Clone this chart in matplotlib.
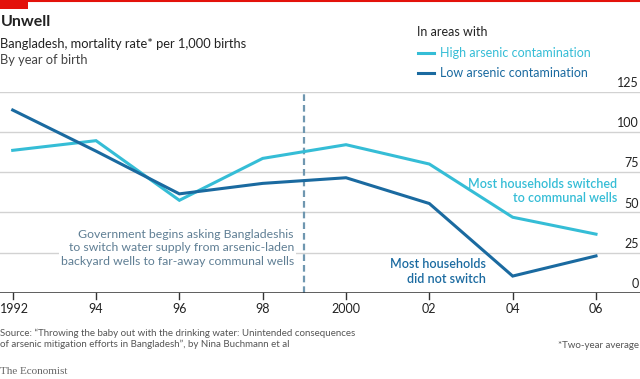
import matplotlib.pyplot as plt
from matplotlib.patches import Rectangle
from matplotlib.lines import Line2D

# === DATA ===
years = [1992, 1994, 1996, 1998, 2000, 2002, 2004, 2006]
high_arsenic = [88.5, 94.5, 57.5, 83.5, 92, 80, 47, 36.5]
low_arsenic = [113.5, 88, 61.5, 68, 71.5, 55.5, 10.5, 23]
year_labels = ["1992", "94", "96", "98", "2000", "02", "04", "06"]
y_ticks = [0, 25, 50, 75, 100, 125]

# === STYLE ===
LIGHT = "#35bdd6"
DARK = "#1a6aa0"
ANNOT = "#5f7e94"
GRID = "#d2d2d2"
TXT = "#222222"
FONT = "Lato"

plt.rcParams['font.family'] = [FONT, 'DejaVu Sans']

W, H = 640, 379
fig = plt.figure(figsize=(W / 100, H / 100), dpi=100)

# axes: pixel 0..640 horizontally, baseline at y=293, 125 at y=91.5
ax_bottom = (H - 293) / H
ax_top = (H - 91.5) / H
ax = fig.add_axes([0, ax_bottom, 1, ax_top - ax_bottom])
px_per_year = (596 - 12.7) / 14
x0 = 1992 - 12.7 / px_per_year
x1 = 1992 + (640 - 12.7) / px_per_year
ax.set_xlim(x0, x1)
ax.set_ylim(0, 125)
ax.axis('off')

# gridlines + right labels
for v in y_ticks[1:]:
    ax.axhline(v, color=GRID, lw=1, zorder=0)
for v in y_ticks:
    ax.annotate(str(v), xy=(1, v), xycoords=('axes fraction', 'data'),
                xytext=(-1, 2), textcoords='offset points',
                ha='right', va='bottom', fontsize=9, color=TXT)

# baseline and ticks
ax.axhline(0, color="#333333", lw=1.1, zorder=3)
for i, (yr, lab) in enumerate(zip(years, year_labels)):
    ax.plot([yr, yr], [0, -3.5], color="#333333", lw=1, clip_on=False)
    if i == 0:
        ax.text(x0 + 0.3 / px_per_year, -6.5, lab, ha='left', va='top',
                fontsize=9, color=TXT)
    else:
        ax.text(yr, -6.5, lab, ha='center', va='top', fontsize=9, color=TXT)

# policy marker
ax.plot([1999, 1999], [0, 124], color="#6f97b0", lw=1.6,
        linestyle=(0, (3, 1.8)), zorder=2)

# series
ax.plot(years, high_arsenic, color=LIGHT, lw=2.2, zorder=4, solid_joinstyle='miter')
ax.plot(years, low_arsenic, color=DARK, lw=2.2, zorder=5, solid_joinstyle='miter')

# annotations
ax.text(x0 + 294 / px_per_year, 40,
        "Government begins asking Bangladeshis\n"
        "to switch water supply from arsenic-laden\n"
        "backyard wells to far-away communal wells",
        ha='right', va='top', fontsize=8.8, color=ANNOT,
        linespacing=1.3, zorder=3,
        bbox=dict(facecolor='white', edgecolor='none', pad=1.5))
ax.text(x0 + 617 / px_per_year, 71.5, "Most households switched\nto communal wells",
        ha='right', va='top', fontsize=9, color=LIGHT, fontweight='semibold',
        linespacing=1.25)
ax.text(x0 + 486 / px_per_year, 21.5, "Most households\ndid not switch",
        ha='right', va='top', fontsize=9, color=DARK, fontweight='semibold',
        linespacing=1.25)

# header
fig.add_artist(Line2D([0, 1], [1 - 0.8 / H, 1 - 0.8 / H], color="#e3120b", lw=1.5))
fig.add_artist(Rectangle((0, 1 - 8.5 / H), 28 / W, 8.5 / H, color="#e3120b", lw=0))
fig.text(0.5 / W, 1 - 22 / H, "Unwell", fontsize=11.5, fontweight='bold',
         color=TXT, va='center', ha='left')
fig.text(0.5 / W, 1 - 43.5 / H, "Bangladesh, mortality rate* per 1,000 births",
         fontsize=9.3, color=TXT, va='center', ha='left')
fig.text(0.5 / W, 1 - 60 / H, "By year of birth",
         fontsize=9.3, color="#444444", va='center', ha='left')

# legend
fig.text(417 / W, 1 - 32 / H, "In areas with", fontsize=9, color=TXT,
         va='center', ha='left')
for yy, col, lab in [(53, LIGHT, "High arsenic contamination"),
                     (73, DARK, "Low arsenic contamination")]:
    fig.add_artist(Line2D([418 / W, 434 / W], [1 - yy / H, 1 - yy / H],
                          color=col, lw=2.2))
    fig.text(440 / W, 1 - yy / H, lab, fontsize=9, color=col,
             va='center', ha='left')

# footer
fig.text(0.5 / W, 1 - 339 / H,
         "Source: \u201cThrowing the baby out with the drinking water: Unintended consequences\n"
         "of arsenic mitigation efforts in Bangladesh\u201d, by Nina Buchmann et al",
         fontsize=7, color="#555555", va='center', ha='left', linespacing=1.25)
fig.text(1 - 1 / W, 1 - 345 / H, "*Two-year average", fontsize=7,
         color="#555555", va='center', ha='right')
fig.text(0.5 / W, 1 - 371 / H, "The Economist", fontsize=8, color="#666666",
         family=['Liberation Serif', 'DejaVu Serif'], va='center', ha='left')

fig.savefig("out.png", dpi=100)
